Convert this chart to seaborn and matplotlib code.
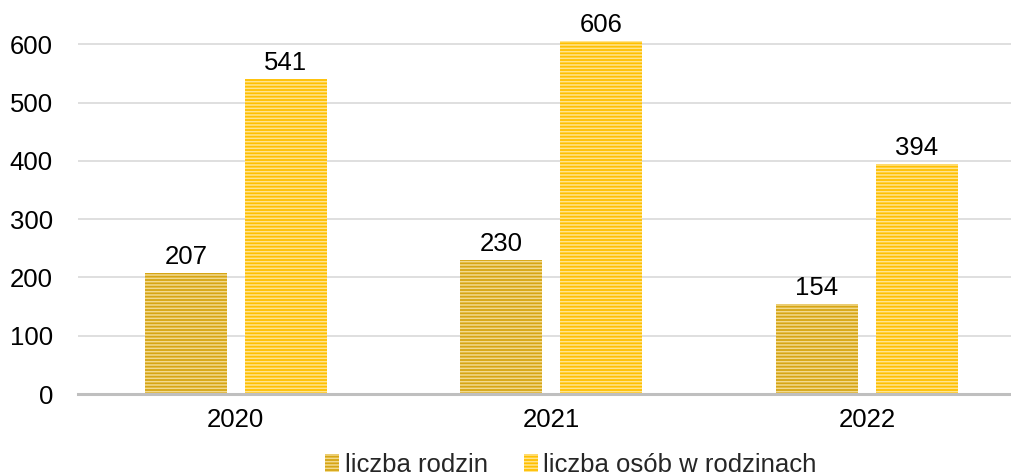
import matplotlib
matplotlib.use("Agg")
import matplotlib.pyplot as plt
import seaborn as sns
import pandas as pd
from matplotlib.patches import Patch

years = ["2020", "2021", "2022"]
series_names = ["liczba rodzin", "liczba osób w rodzinach"]
rodziny = [207, 230, 154]
osoby = [541, 606, 394]
y_ticks = [0, 100, 200, 300, 400, 500, 600]

df = pd.DataFrame({
    "rok": years * 2,
    "seria": [series_names[0]] * 3 + [series_names[1]] * 3,
    "wartosc": rodziny + osoby,
})

sns.set_style("white")
plt.rcParams["font.family"] = ["Liberation Sans", "DejaVu Sans"]
plt.rcParams["hatch.linewidth"] = 1.1

fills = ["#D6A514", "#FFC000"]
hatches = ["#F2DA8E", "#FFE48F"]
FS = 18.5

fig = plt.figure(figsize=(10.12, 4.75), dpi=100)
ax = fig.add_axes([0.077, 0.1705, 0.923, 0.7975])

sns.barplot(data=df, x="rok", y="wartosc", hue="seria", palette=fills,
            width=0.632, gap=0.177, ax=ax, legend=False, saturation=1)

for i, cont in enumerate(ax.containers):
    for p in cont:
        p.set_facecolor(fills[i])
        p.set_edgecolor(hatches[i])
        p.set_linewidth(0)
        p.set_hatch("-----")
    ax.bar_label(cont, fmt="%d", padding=3, fontsize=FS, color="#000000")

ax.set_ylim(0, 650)
ax.set_xlim(-0.5, 2.46)
ax.set_yticks(y_ticks)
ax.set_xlabel("")
ax.set_ylabel("")
ax.tick_params(axis="both", length=0, labelsize=FS, colors="#000000")
ax.tick_params(axis="y", pad=18)
ax.tick_params(axis="x", pad=10)
ax.yaxis.grid(True, color="#D9D9D9", linewidth=1.2)
ax.set_axisbelow(True)
for s in ["top", "right", "left"]:
    ax.spines[s].set_visible(False)
ax.spines["bottom"].set_color("#BFBFBF")
ax.spines["bottom"].set_linewidth(2.2)

handles = [Patch(facecolor=fills[i], edgecolor=hatches[i], linewidth=0, hatch="-----",
                 label=series_names[i]) for i in range(2)]
fig.legend(handles=handles, loc="center", bbox_to_anchor=(0.564, 0.022), ncol=2,
           frameon=False, fontsize=FS, handlelength=0.55, handleheight=0.7,
           handletextpad=0.2, columnspacing=1.4)

fig.savefig("out.png", dpi=100)
